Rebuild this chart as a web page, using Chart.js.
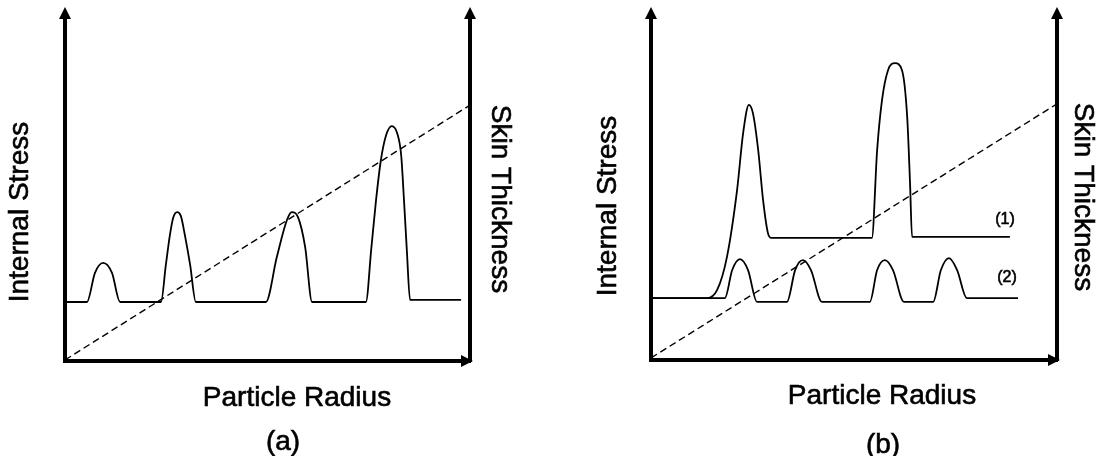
<!DOCTYPE html>
<html>
<head>
<meta charset="utf-8">
<script src="https://cdn.jsdelivr.net/npm/chart.js@4.4.1/dist/chart.umd.min.js"></script>
<style>
  body { margin: 0; background: #fff; }
  canvas { position: absolute; top: 0; }
</style>
</head>
<body>
<canvas id="chartA" width="550" height="456" style="left:0"></canvas>
<canvas id="chartB" width="551" height="456" style="left:550px"></canvas>
<script>
// panel (a): internal stress vs particle radius (arbitrary units, 0-100)
const stressAX = [0, 5.4, 7.4, 9.4, 11.6, 13.6, 23.7, 24.9, 25.9, 26.7, 27.7, 28.6, 29.6, 30.9, 32.3,
  49.6, 52.3, 54.8, 56.0, 57.5, 59.3, 61.0, 74.3, 75.6, 76.8, 78.0, 79.3, 80.7, 82.0, 83.0, 83.7, 84.4, 85.2, 97.8];
const stressAY = [17.2, 17.2, 25.7, 28.6, 25.7, 17.2, 17.2, 28.0, 36.7, 41.7, 43.4, 42.3, 36.7, 28.0, 17.2,
  17.2, 30.3, 41.1, 43.4, 42.0, 33.2, 17.2, 17.2, 32.4, 46.9, 58.6, 65.9, 68.5, 66.5, 60.1, 46.9, 32.4, 17.8, 17.8];

// panel (b), curve (1)
const stress1X = [0, 13.8, 16.3, 18.7, 21.2, 22.7, 24.1, 25.1, 26.4, 27.6, 28.8, 29.6,
  54.4, 55.7, 56.9, 58.4, 60.1, 61.8, 63.1, 63.8, 64.3, 88.4];
const stress1Y = [18.1, 18.1, 20.5, 30.1, 49.7, 66.4, 74.6, 72.2, 61.4, 46.8, 37.1, 35.7,
  35.7, 61.4, 76.0, 84.8, 86.8, 84.8, 71.1, 51.8, 36.0, 36.0];

// panel (b), curve (2)
const stress2X = [0, 18.2, 20.0, 21.9, 23.9, 26.1, 33.5, 35.5, 37.4, 39.4, 42.1,
  53.9, 55.7, 57.6, 59.6, 62.3, 69.5, 71.4, 73.4, 75.4, 77.8, 90.4];
const stress2Y = [18.1, 18.1, 26.3, 29.5, 26.3, 17.0, 17.0, 26.3, 29.2, 26.3, 17.0,
  17.0, 26.3, 29.2, 26.3, 17.0, 17.0, 26.3, 29.8, 26.3, 18.1, 18.1];

// skin thickness (dashed, linear)
const skinX = [0, 100];
const skinAY = [0.3, 74.6];
const skinBY = [0.6, 74.9];

const FONT = '"Liberation Sans", Arial, sans-serif';

function series(xs, ys) {
  return xs.map((x, i) => ({ x: x, y: ys[i] }));
}

const solid = { borderColor: '#000', borderWidth: 1.8, pointRadius: 0, cubicInterpolationMode: 'monotone', fill: false };
const dashed = { borderColor: '#000', borderWidth: 1.4, borderDash: [7, 4], pointRadius: 0, fill: false };

const axisArrows = {
  id: 'axisArrows',
  afterDraw(chart) {
    const { ctx, chartArea: { left, right, top, bottom } } = chart;
    const tri = (a, b, c) => {
      ctx.beginPath();
      ctx.moveTo(a[0], a[1]);
      ctx.lineTo(b[0], b[1]);
      ctx.lineTo(c[0], c[1]);
      ctx.closePath();
      ctx.fill();
    };
    ctx.save();
    ctx.fillStyle = '#000';
    [left, right].forEach(x => tri([x, top - 11], [x - 6, top + 1], [x + 6, top + 1]));
    tri([right + 3, bottom], [right - 9, bottom - 6], [right - 9, bottom + 6]);
    ctx.restore();
  }
};

function textPlugin(items) {
  return {
    id: 'panelText',
    afterDraw(chart) {
      const ctx = chart.ctx;
      items.forEach(t => {
        ctx.save();
        ctx.translate(t.x, t.y);
        ctx.rotate(t.rot || 0);
        ctx.font = t.size + 'px ' + FONT;
        ctx.fillStyle = '#000';
        ctx.strokeStyle = '#000';
        ctx.lineWidth = 0.6;
        ctx.textAlign = 'center';
        ctx.textBaseline = 'middle';
        ctx.fillText(t.text, 0, 0);
        ctx.strokeText(t.text, 0, 0);
        ctx.restore();
      });
    }
  };
}

function axis(position) {
  return {
    type: 'linear', position: position, min: 0, max: 100,
    ticks: { display: false },
    grid: { display: false, drawTicks: false },
    border: { display: true, color: '#000', width: 4 }
  };
}

function makeChart(id, datasets, padding, labels) {
  return new Chart(document.getElementById(id), {
    type: 'line',
    data: { datasets: datasets },
    options: {
      responsive: false,
      animation: false,
      events: [],
      layout: { padding: padding },
      plugins: { legend: { display: false }, tooltip: { enabled: false } },
      scales: { x: axis('bottom'), y: axis('left'), y2: axis('right') }
    },
    plugins: [axisArrows, textPlugin(labels)]
  });
}

makeChart('chartA', [
  Object.assign({ data: series(stressAX, stressAY) }, solid),
  Object.assign({ data: series(skinX, skinAY) }, dashed)
], { left: 65, right: 80, top: 18, bottom: 95 }, [
  { text: 'Internal Stress', x: 20, y: 212, rot: -Math.PI / 2, size: 28 },
  { text: 'Skin Thickness', x: 500, y: 199, rot: Math.PI / 2, size: 28 },
  { text: 'Particle Radius', x: 297, y: 398, size: 28 },
  { text: '(a)', x: 283, y: 442, size: 28 }
]);

makeChart('chartB', [
  Object.assign({ data: series(stress1X, stress1Y) }, solid),
  Object.assign({ data: series(stress2X, stress2Y) }, solid),
  Object.assign({ data: series(skinX, skinBY) }, dashed)
], { left: 101, right: 44, top: 18, bottom: 96 }, [
  { text: 'Internal Stress', x: 58, y: 206, rot: -Math.PI / 2, size: 28 },
  { text: 'Skin Thickness', x: 533, y: 197, rot: Math.PI / 2, size: 28 },
  { text: 'Particle Radius', x: 332, y: 396, size: 28 },
  { text: '(b)', x: 333, y: 445, size: 28 },
  { text: '(1)', x: 455, y: 220, size: 16 },
  { text: '(2)', x: 457, y: 278, size: 16 }
]);
</script>
</body>
</html>
